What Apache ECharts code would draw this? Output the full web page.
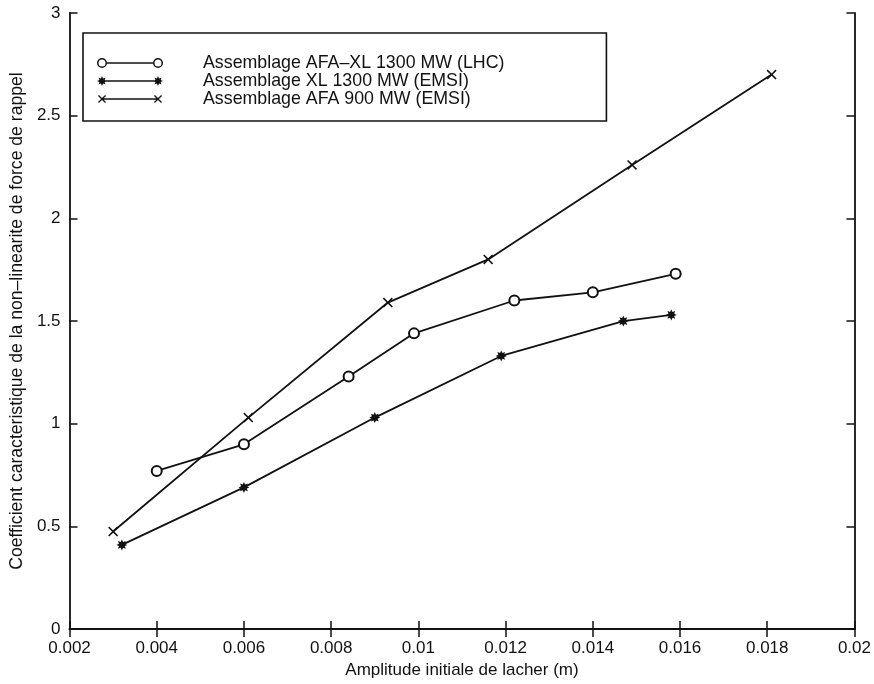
<!DOCTYPE html>
<html>
<head>
<meta charset="utf-8">
<script src="https://cdn.jsdelivr.net/npm/echarts@6/dist/echarts.min.js"></script>
<style>
  html, body { margin: 0; padding: 0; background: #fff; }
  #chart { width: 874px; height: 684px; }
</style>
</head>
<body>
<div id="chart"></div>
<script>
// ---- Data ----
var seriesNames = [
  'Assemblage AFA\u2013XL 1300 MW (LHC)',
  'Assemblage XL 1300 MW (EMSI)',
  'Assemblage AFA 900 MW (EMSI)'
];
var circleX = [0.0040, 0.0060, 0.0084, 0.0099, 0.0122, 0.0140, 0.0159];
var circleY = [0.77, 0.90, 1.23, 1.44, 1.60, 1.64, 1.73];
var starX = [0.0032, 0.0060, 0.0090, 0.0119, 0.0147, 0.0158];
var starY = [0.41, 0.69, 1.03, 1.33, 1.50, 1.53];
var crossX = [0.0030, 0.0061, 0.0093, 0.0116, 0.0149, 0.0181];
var crossY = [0.475, 1.03, 1.59, 1.80, 2.26, 2.70];
var xTickMin = 0.002, xTickMax = 0.02, xTickStep = 0.002;
var yTickMin = 0, yTickMax = 3, yTickStep = 0.5;
var xTitle = 'Amplitude initiale de lacher (m)';
var yTitle = 'Coefficient caracteristique de la non\u2013linearite de force de rappel';

function pairs(xs, ys) { return xs.map(function (x, i) { return [x, ys[i]]; }); }

var INK = '#111';
var FONT = '"Liberation Sans", Arial, Helvetica, sans-serif';

// marker shapes
var starPath = 'path://M5 0 L6.1 2.4 L8.536 1.464 L7.6 3.9 L10 5 L7.6 6.1 L8.536 8.536 L6.1 7.6 L5 10 L3.9 7.6 L1.464 8.536 L2.4 6.1 L0 5 L2.4 3.9 L1.464 1.464 L3.9 2.4 Z';
var crossPath = 'path://M0 1.1 L1.1 0 L5 3.9 L8.9 0 L10 1.1 L6.1 5 L10 8.9 L8.9 10 L5 6.1 L1.1 10 L0 8.9 L3.9 5 Z';

// legend icons (66 x 10): marker - line - marker
var legCircle = 'path://M0 5 A5 5 0 1 1 10 5 A5 5 0 1 1 0 5 Z M1.5 5 A3.5 3.5 0 1 0 8.5 5 A3.5 3.5 0 1 0 1.5 5 Z ' +
  'M56 5 A5 5 0 1 1 66 5 A5 5 0 1 1 56 5 Z M57.5 5 A3.5 3.5 0 1 0 64.5 5 A3.5 3.5 0 1 0 57.5 5 Z ' +
  'M10 4.2 L56 4.2 L56 5.8 L10 5.8 Z';
var legStar = 'path://M5 0 L6.1 2.4 L8.536 1.464 L7.6 3.9 L10 5 L7.6 6.1 L8.536 8.536 L6.1 7.6 L5 10 L3.9 7.6 L1.464 8.536 L2.4 6.1 L0 5 L2.4 3.9 L1.464 1.464 L3.9 2.4 Z ' +
  'M61 0 L62.1 2.4 L64.536 1.464 L63.6 3.9 L66 5 L63.6 6.1 L64.536 8.536 L62.1 7.6 L61 10 L59.9 7.6 L57.464 8.536 L58.4 6.1 L56 5 L58.4 3.9 L57.464 1.464 L59.9 2.4 Z ' +
  'M8 4.2 L58 4.2 L58 5.8 L8 5.8 Z';
var legCross = 'path://M1 1.9 L1.9 1 L5 4.1 L8.1 1 L9 1.9 L5.9 5 L9 8.1 L8.1 9 L5 5.9 L1.9 9 L1 8.1 L4.1 5 Z ' +
  'M57 1.9 L57.9 1 L61 4.1 L64.1 1 L65 1.9 L61.9 5 L65 8.1 L64.1 9 L61 5.9 L57.9 9 L57 8.1 L60.1 5 Z ' +
  'M0 0 L0.01 0 L0.01 0.01 Z M66 10 L65.99 10 L65.99 9.99 Z ' +
  'M5.5 4.2 L60.5 4.2 L60.5 5.8 L5.5 5.8 Z';

var chart = echarts.init(document.getElementById('chart'), null, { renderer: 'canvas' });

var axisLine = { show: true, lineStyle: { color: INK, width: 1.8 } };
var tickIn = { show: true, inside: true, length: 8, lineStyle: { color: INK, width: 1.5 } };
var labelStyle = { color: INK, fontSize: 17, fontFamily: FONT };

var option = {
  backgroundColor: '#fff',
  animation: false,
  grid: { left: 64, right: 19, top: 13, bottom: 48, containLabel: false },
  legend: {
    orient: 'vertical',
    left: 83,
    top: 33,
    padding: [21, 102, 13, 14],
    itemGap: 0,
    itemWidth: 66,
    itemHeight: 10,
    borderColor: INK,
    borderWidth: 1.6,
    borderRadius: 0,
    selectedMode: false,
    itemStyle: { color: INK, borderWidth: 0 },
    textStyle: { color: INK, fontSize: 17.8, fontFamily: FONT, lineHeight: 18, padding: [0, 0, 0, 35] },
    data: [
      { name: seriesNames[0], icon: legCircle },
      { name: seriesNames[1], icon: legStar },
      { name: seriesNames[2], icon: legCross }
    ]
  },
  xAxis: [
    {
      type: 'value', position: 'bottom',
      min: xTickMin, max: xTickMax, interval: xTickStep,
      name: xTitle, nameLocation: 'middle', nameGap: 28,
      nameTextStyle: { color: INK, fontSize: 17, fontFamily: FONT },
      axisLine: axisLine, axisTick: tickIn,
      axisLabel: Object.assign({ margin: 11 }, labelStyle),
      splitLine: { show: false }
    },
    {
      type: 'value', position: 'top',
      min: xTickMin, max: xTickMax, interval: xTickStep,
      axisLine: axisLine, axisTick: tickIn,
      axisLabel: { show: false }, splitLine: { show: false }
    }
  ],
  yAxis: [
    {
      type: 'value', position: 'left',
      min: yTickMin, max: yTickMax, interval: yTickStep,
      name: yTitle, nameLocation: 'middle', nameGap: 37,
      nameTextStyle: { color: INK, fontSize: 17.6, fontFamily: FONT },
      axisLine: axisLine, axisTick: tickIn,
      axisLabel: Object.assign({ margin: 9 }, labelStyle),
      splitLine: { show: false }
    },
    {
      type: 'value', position: 'right',
      min: yTickMin, max: yTickMax, interval: yTickStep,
      axisLine: axisLine, axisTick: tickIn,
      axisLabel: { show: false }, splitLine: { show: false }
    }
  ],
  series: [
    {
      name: seriesNames[0], type: 'line', xAxisIndex: 0, yAxisIndex: 0,
      data: pairs(circleX, circleY),
      symbol: 'emptyCircle', symbolSize: 10,
      lineStyle: { color: INK, width: 1.8 },
      itemStyle: { color: INK, borderColor: INK, borderWidth: 1.6 }
    },
    {
      name: seriesNames[1], type: 'line', xAxisIndex: 0, yAxisIndex: 0,
      data: pairs(starX, starY),
      symbol: starPath, symbolSize: 11,
      lineStyle: { color: INK, width: 1.8 },
      itemStyle: { color: INK, borderWidth: 0 }
    },
    {
      name: seriesNames[2], type: 'line', xAxisIndex: 0, yAxisIndex: 0,
      data: pairs(crossX, crossY),
      symbol: crossPath, symbolSize: 10,
      lineStyle: { color: INK, width: 1.8 },
      itemStyle: { color: INK, borderWidth: 0 }
    }
  ]
};
chart.setOption(option);
</script>
</body>
</html>
